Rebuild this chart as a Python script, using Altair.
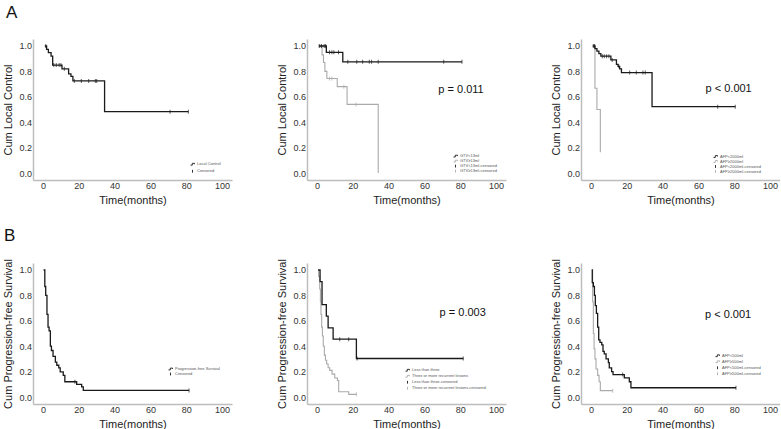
import altair as alt
import pandas as pd

# ---------------- data ----------------
X_TICKS = [0, 20, 40, 60, 80, 100]
Y_TICKS = [0.0, 0.2, 0.4, 0.6, 0.8, 1.0]

# A1: local control, all patients
A1_t = [1, 2.0, 3.0, 4.5, 5.4, 10.6, 14.3, 15.6, 16.7, 34.4, 81.2]
A1_s = [1.0, 0.974, 0.948, 0.92, 0.85, 0.82, 0.78, 0.76, 0.725, 0.483, 0.483]
A1_ct = [1.5, 6.0, 7.4, 9.0, 10.0, 11.9, 17.5, 21.4, 25.5, 29.2, 30.0, 71.0, 81.2]
A1_cs = [1.0, 0.85, 0.85, 0.85, 0.85, 0.82, 0.725, 0.725, 0.725, 0.725, 0.725, 0.483, 0.483]

# A2: GTV groups
A2a_t = [1, 5.2, 14.4, 81.0]
A2a_s = [1.0, 0.95, 0.875, 0.875]
A2a_ct = [1.5, 2.5, 4.0, 4.8, 7.0, 8.3, 9.4, 12.0, 17.2, 22.2, 25.5, 29.2, 30.5, 34.2, 70.8, 81.0]
A2a_cs = [1.0, 1.0, 1.0, 1.0, 0.95, 0.95, 0.95, 0.95, 0.875, 0.875, 0.875, 0.875, 0.875, 0.875, 0.875, 0.875]
A2b_t = [1.5, 2.8, 3.6, 4.4, 5.5, 11.3, 16.8, 34.2]
A2b_s = [1.0, 0.93, 0.87, 0.80, 0.744, 0.68, 0.54, 0.0]
A2b_ct = [1.0, 7.0, 8.3, 15.0, 21.8]
A2b_cs = [1.0, 0.744, 0.744, 0.68, 0.54]

# A3: AFP 2000 groups
A3a_t = [1, 2.2, 3.3, 4.4, 5.5, 11.1, 14.2, 15.1, 16.0, 17.0, 34.1, 80.6]
A3a_s = [1.0, 0.98, 0.96, 0.94, 0.92, 0.89, 0.856, 0.84, 0.82, 0.791, 0.522, 0.522]
A3a_ct = [1.5, 2.0, 6.3, 7.4, 8.7, 10.0, 11.8, 15.5, 21.6, 25.3, 29.0, 30.3, 70.8, 80.6]
A3a_cs = [1.0, 1.0, 0.92, 0.92, 0.92, 0.92, 0.89, 0.84, 0.791, 0.791, 0.791, 0.791, 0.522, 0.522]
A3b_t = [1.0, 2.2, 3.3, 5.2, 5.5]
A3b_s = [1.0, 0.667, 0.5, 0.167, 0.167]
A3b_ct = [1.0]
A3b_cs = [1.0]

# B1: PFS all
B1_t = [0.3, 1.0, 1.5, 2.2, 2.8, 3.4, 4.1, 4.7, 5.6, 6.9, 7.7, 8.8, 9.6, 11.3, 12.2, 18.8, 21.6, 22.5, 81.6]
B1_s = [1.0, 0.87, 0.80, 0.65, 0.55, 0.52, 0.40, 0.366, 0.32, 0.274, 0.25, 0.23, 0.198, 0.17, 0.12, 0.10, 0.08, 0.052, 0.052]
B1_ct = [17.8, 81.6]
B1_cs = [0.12, 0.052]

# B2: number of lesions
B2a_t = [0.6, 1.7, 2.8, 5.2, 6.2, 9.0, 22.0, 81.7]
B2a_s = [1.0, 0.909, 0.727, 0.636, 0.545, 0.455, 0.303, 0.303]
B2a_ct = [12.7, 17.7, 22.4, 81.7]
B2a_cs = [0.455, 0.455, 0.303, 0.303]
B2b_t = [0.6, 0.9, 1.5, 1.9, 2.2, 2.6, 3.0, 3.5, 4.1, 4.7, 5.4, 6.2, 7.1, 8.4, 9.9, 11.4, 12.1, 17.7, 22.0]
B2b_s = [1.0, 0.95, 0.85, 0.75, 0.65, 0.55, 0.48, 0.40, 0.33, 0.29, 0.26, 0.23, 0.21, 0.18, 0.15, 0.13, 0.042, 0.021, 0.021]
B2b_ct = [22.0]
B2b_cs = [0.021]

# B3: AFP 500 groups
B3a_t = [0.4, 0.7, 1.3, 1.9, 2.4, 3.0, 3.7, 4.3, 5.0, 6.0, 6.7, 7.4, 8.4, 9.7, 10.2, 11.5, 12.3, 18.6, 21.4, 22.3, 81.0]
B3a_s = [1.0, 0.9, 0.87, 0.80, 0.72, 0.658, 0.55, 0.45, 0.43, 0.41, 0.36, 0.34, 0.30, 0.27, 0.23, 0.20, 0.177, 0.15, 0.12, 0.073, 0.073]
B3a_ct = [17.7, 81.0]
B3a_cs = [0.177, 0.073]
B3b_t = [0.4, 0.9, 1.3, 1.7, 2.2, 2.8, 3.7, 4.5, 5.2, 12.1]
B3b_s = [1.0, 0.75, 0.5, 0.38, 0.3, 0.22, 0.17, 0.12, 0.05, 0.05]
B3b_ct = [12.1]
B3b_cs = [0.05]

# legends and annotations
A1_leg = ["Local Control", "Censored"]
A2_leg = ["GTV<13ml", "GTV≥13ml", "GTV<13ml-censored", "GTV≥13ml-censored"]
A3_leg = ["AFP<2000ml", "AFP≥2000ml", "AFP<2000ml-censored", "AFP≥2000ml-censored"]
B1_leg = ["Progression-free Survival", "Censored"]
B2_leg = ["Less than three", "Three or more recurrent lesions",
          "Less than three-censored", "Three or more recurrent lesions-censored"]
B3_leg = ["AFP<500ml", "AFP≥500ml", "AFP<500ml-censored", "AFP≥500ml-censored"]

P_text = ["p = 0.011", "p < 0.001", "p = 0.003", "p < 0.001"]
P_t = [67.8, 64.0, 68.5, 63.7]
P_s = [0.656, 0.664, 0.664, 0.648]

PANEL_TAGS = ["A", "B"]

# ---------------- styling ----------------
FONT = "Liberation Sans"
BLACK = "#1a1a1a"
GRAY = "#aaaaaa"
W, H = 199, 141
STEP = "M-1,0.45H-0.1V-0.45H1V0"
BAR = "M0,-0.7V0.7"


def xenc():
    return alt.X("t:Q", scale=alt.Scale(domain=[-5.6, 105.6], nice=False, zero=False),
                 axis=alt.Axis(values=X_TICKS, title="Time(months)"))


def yenc(title):
    return alt.Y("s:Q", scale=alt.Scale(domain=[-0.055, 1.055], nice=False, zero=False),
                 axis=alt.Axis(values=Y_TICKS, format=".1f", title=title))


def panel(curves, ytitle, legend_entries, leg_xy, row_h, tag, tag_xy, ptext=None):
    layers = []
    for (t, s, ct, cs, col, sw) in curves:
        layers.append(
            alt.Chart(pd.DataFrame({"t": t, "s": s}))
            .mark_line(interpolate="step-after", color=col, strokeWidth=sw)
            .encode(x=xenc(), y=yenc(ytitle))
        )
        layers.append(
            alt.Chart(pd.DataFrame({"t": ct, "s": cs}))
            .mark_tick(orient="vertical", color=col, size=4, thickness=1)
            .encode(x=xenc(), y=yenc(ytitle))
        )
    if ptext is not None:
        txt, pt, ps = ptext
        layers.append(
            alt.Chart(pd.DataFrame({"t": [pt], "s": [ps], "label": [txt]}))
            .mark_text(align="left", baseline="middle", font=FONT, fontSize=11, color="#111")
            .encode(x=xenc(), y=yenc(ytitle), text="label:N")
        )
    # panel letter (blank in the other panels of the row so the row bounds match)
    layers.append(
        alt.Chart(pd.DataFrame({"tag": [tag]}))
        .mark_text(align="left", baseline="alphabetic", font=FONT, fontSize=17, color="#111")
        .encode(x=alt.value(tag_xy[0]), y=alt.value(tag_xy[1]), text="tag:N")
    )
    n = len(legend_entries)
    if n == 2:
        colors = [BLACK, BLACK]
        shapes = [STEP, BAR]
    else:
        colors = [BLACK, GRAY, BLACK, GRAY]
        shapes = [STEP, STEP, BAR, BAR]
    leg = alt.Legend(title=None, orient="none", legendX=leg_xy[0], legendY=leg_xy[1],
                     labelFont=FONT, labelFontSize=4, labelColor="#555", labelLimit=300,
                     symbolSize=16, symbolStrokeWidth=0.9, symbolOpacity=1,
                     rowPadding=0, clipHeight=row_h, labelOffset=2, padding=0)
    layers.append(
        alt.Chart(pd.DataFrame({"entry": legend_entries, "t": [0] * n, "s": [0] * n}))
        .mark_point(opacity=0, filled=False)
        .encode(x=xenc(), y=yenc(ytitle),
                color=alt.Color("entry:N", scale=alt.Scale(domain=legend_entries, range=colors),
                                legend=leg),
                shape=alt.Shape("entry:N", scale=alt.Scale(domain=legend_entries, range=shapes),
                                legend=leg))
    )
    return alt.layer(*layers).properties(width=W, height=H)


LC = "Cum Local Control"
PF = "Cum Progression-free Survival"
TA = (-27, -21)
TB = (-29, -22)

pA1 = panel([(A1_t, A1_s, A1_ct, A1_cs, BLACK, 1.3)], LC, A1_leg, (157, 122), 6.5,
            PANEL_TAGS[0], TA)
pA2 = panel([(A2b_t, A2b_s, A2b_ct, A2b_cs, GRAY, 1.1),
             (A2a_t, A2a_s, A2a_ct, A2a_cs, BLACK, 1.3)], LC, A2_leg, (146, 115), 4.2,
            " ", TA, (P_text[0], P_t[0], P_s[0]))
pA3 = panel([(A3b_t, A3b_s, A3b_ct, A3b_cs, GRAY, 1.1),
             (A3a_t, A3a_s, A3a_ct, A3a_cs, BLACK, 1.3)], LC, A3_leg, (132, 115), 5,
            " ", TA, (P_text[1], P_t[1], P_s[1]))
pB1 = panel([(B1_t, B1_s, B1_ct, B1_cs, BLACK, 1.3)], PF, B1_leg, (135, 103.5), 5,
            PANEL_TAGS[1], TB)
pB2 = panel([(B2b_t, B2b_s, B2b_ct, B2b_cs, GRAY, 1.1),
             (B2a_t, B2a_s, B2a_ct, B2a_cs, BLACK, 1.3)], PF, B2_leg, (98, 104.5), 5.5,
            " ", TB, (P_text[2], P_t[2], P_s[2]))
pB3 = panel([(B3b_t, B3b_s, B3b_ct, B3b_cs, GRAY, 1.1),
             (B3a_t, B3a_s, B3a_ct, B3a_cs, BLACK, 1.3)], PF, B3_leg, (134, 90), 5.5,
            " ", TB, (P_text[3], P_t[3], P_s[3]))

rowA = alt.hconcat(pA1, pA2, pA3, spacing=44)
rowB = alt.hconcat(pB1, pB2, pB3, spacing=44)
rowA = rowA.resolve_scale(color="independent", shape="independent").resolve_legend(
    color="independent", shape="independent")
rowB = rowB.resolve_scale(color="independent", shape="independent").resolve_legend(
    color="independent", shape="independent")

chart = (
    alt.vconcat(rowA, rowB, spacing=22)
    .resolve_scale(color="independent", shape="independent")
    .resolve_legend(color="independent", shape="independent")
    .properties(padding={"left": 2, "top": 4, "right": 0, "bottom": 0}, background="white")
    .configure_view(stroke=None)
    .configure_axis(domainColor="#bdbdbd", domainWidth=1.5, ticks=False, grid=False,
                    labelFont=FONT, labelFontSize=9, labelColor="#333", labelPadding=1.5,
                    titleFont=FONT, titleFontSize=11, titleFontWeight="normal", titleColor="#222")
    .configure_axisY(titlePadding=5)
    .configure_axisX(titlePadding=3.5)
)

chart.save("out.html", embed_options={"renderer": "svg", "actions": False})
